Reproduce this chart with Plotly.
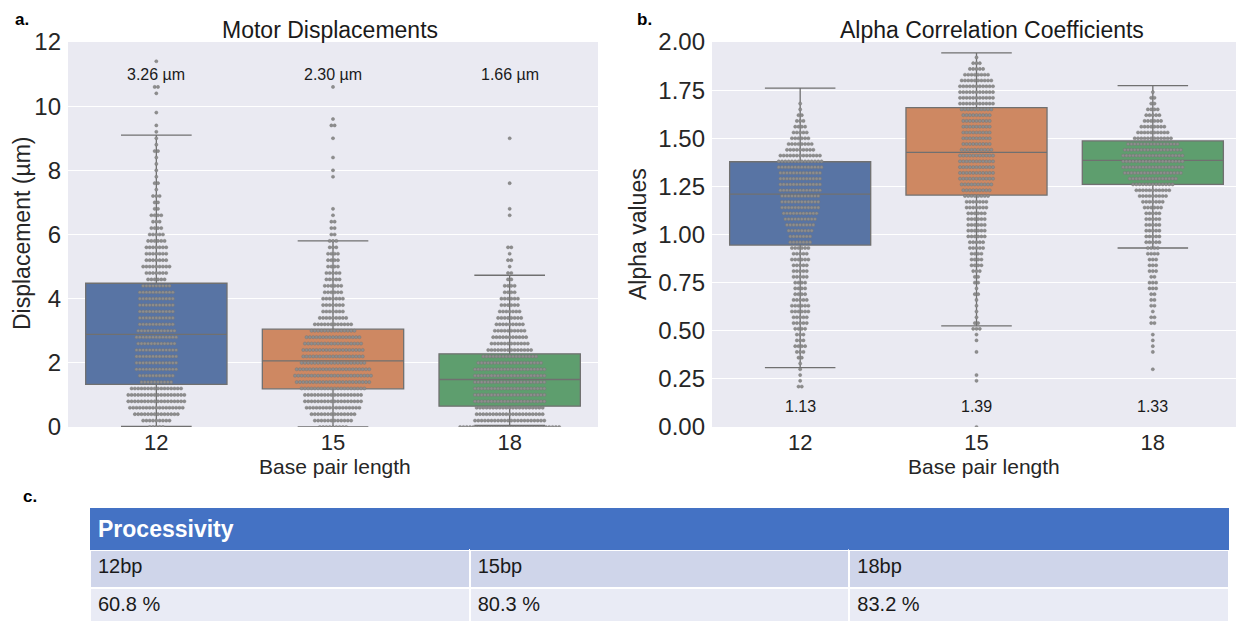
import plotly.graph_objects as go

# ---------------- data ----------------
categories = ["12", "15", "18"]
box_colors = ["#5874A4", "#CE8862", "#5E9E6E"]

# Panel a: Motor displacements (µm) - box statistics
disp_q1 = [1.33, 1.19, 0.65]
disp_median = [2.89, 2.06, 1.48]
disp_q3 = [4.48, 3.05, 2.28]
disp_lower = [0.02, 0.0, 0.05]
disp_upper = [9.1, 5.8, 4.73]
disp_means = ["3.26 µm", "2.30 µm", "1.66 µm"]

# swarm: point counts per 0.2 µm bin, starting at 0.0
disp_bin_start = 0.0
disp_bin_step = 0.2
disp_counts_12 = [5, 9, 14, 17, 18, 18, 16, 10, 11, 13, 13, 13, 13, 12, 13, 12, 11, 11, 11, 11,
                  11, 11, 9, 6, 7, 9, 7, 7, 7, 6, 5, 4, 3, 4, 2, 2, 3, 1, 2, 1,
                  1, 1, 1, 2, 1, 1, 1, 1, 0, 1, 0, 0, 1, 2, 0, 0, 0, 1]
disp_counts_15 = [9, 12, 14, 17, 18, 18, 20, 23, 24, 23, 20, 19, 19, 18, 17, 14, 12, 9, 7, 7,
                  7, 6, 6, 5, 5, 4, 4, 4, 3, 3, 2, 2, 2, 1, 1, 0, 0, 0, 0, 1,
                  1, 0, 1, 0, 0, 1, 0, 2, 1, 0, 0, 0, 0, 1]
disp_counts_18 = [31, 22, 21, 21, 22, 22, 22, 22, 22, 22, 20, 17, 14, 12, 11, 10, 9, 8, 7, 6,
                  6, 4, 4, 2, 2, 1, 2, 1, 2, 0, 0, 0, 0, 1, 1, 0, 0, 0, 1, 0,
                  0, 0, 0, 0, 0, 1]

# Panel b: Alpha correlation coefficients - box statistics
alpha_q1 = [0.945, 1.205, 1.26]
alpha_median = [1.21, 1.427, 1.385]
alpha_q3 = [1.378, 1.659, 1.486]
alpha_lower = [0.308, 0.525, 0.93]
alpha_upper = [1.76, 1.943, 1.773]
alpha_means = ["1.13", "1.39", "1.33"]

# swarm: point counts per 0.03 bin, starting at 0.00
alpha_bin_start = 0.0
alpha_bin_step = 0.03
alpha_counts_12 = [0, 0, 0, 0, 0, 0, 0, 2, 1, 1, 1, 1, 2, 3, 4, 3, 3, 4, 5, 5,
                   6, 6, 5, 4, 4, 4, 5, 5, 5, 6, 5, 6, 7, 7, 8, 9, 10, 11, 12, 12,
                   12, 13, 13, 13, 13, 14, 14, 13, 9, 8, 6, 5, 4, 3, 2, 1, 1]
alpha_counts_15 = [1, 0, 0, 0, 0, 0, 0, 0, 1, 1, 0, 0, 0, 1, 0, 1, 1, 3, 2, 1,
                   1, 1, 1, 2, 1, 2, 2, 3, 4, 4, 4, 5, 5, 6, 6, 6, 6, 6, 7, 7,
                   8, 9, 10, 11, 11, 11, 11, 11, 10, 9, 9, 9, 9, 9, 9, 10, 11, 11, 11, 11,
                   10, 8, 5, 3, 1]
alpha_counts_18 = [0, 0, 0, 0, 0, 0, 0, 0, 0, 0, 1, 0, 0, 1, 1, 1, 1, 0, 2, 2,
                   1, 2, 2, 2, 3, 3, 2, 3, 3, 3, 4, 4, 5, 5, 5, 5, 5, 5, 6, 7,
                   9, 11, 13, 15, 18, 19, 19, 19, 18, 16, 12, 10, 8, 6, 5, 4, 2, 2, 1]

# Panel c: processivity table
proc_labels = ["12bp", "15bp", "18bp"]
proc_values = ["60.8 %", "80.3 %", "83.2 %"]

# ---------------- figure ----------------
W, H = 1244, 621
OFF = 8  # page body margin in the browser
FONT = "Arial, Liberation Sans, sans-serif"
TXT = "#262626"


def px(x):
    return (x - OFF) / W


def py(y):
    return (H - (y - OFF)) / H


ax_a = [px(68), px(598)]
ax_b = [px(712), px(1241)]
ydom = [py(427), py(42)]

fig = go.Figure()


def swarm(counts, start, step, pos, spacing):
    xs, ys = [], []
    for i, n in enumerate(counts):
        v = start + i * step
        for k in range(n):
            xs.append(pos + (k - (n - 1) / 2) * spacing)
            ys.append(v)
    return xs, ys


spacing = 3.3 / 176.6  # px per category -> category units

panels = [
    ("x", "y", disp_q1, disp_median, disp_q3, disp_lower, disp_upper,
     [disp_counts_12, disp_counts_15, disp_counts_18], disp_bin_start, disp_bin_step),
    ("x2", "y2", alpha_q1, alpha_median, alpha_q3, alpha_lower, alpha_upper,
     [alpha_counts_12, alpha_counts_15, alpha_counts_18], alpha_bin_start, alpha_bin_step),
]

for xa, ya, q1, med, q3, lo, hi, counts, start, step in panels:
    for i in range(3):
        fig.add_trace(go.Box(
            x=[i], q1=[q1[i]], median=[med[i]], q3=[q3[i]],
            lowerfence=[lo[i]], upperfence=[hi[i]],
            width=0.8, whiskerwidth=0.5, fillcolor=box_colors[i],
            line=dict(color="#707070", width=1.3),
            boxpoints=False, hoverinfo="skip", showlegend=False,
            xaxis=xa, yaxis=ya,
        ))
    for i in range(3):
        xs, ys = swarm(counts[i], start, step, i, spacing)
        fig.add_trace(go.Scatter(
            x=xs, y=ys, mode="markers",
            marker=dict(size=3.2, color="#8E8E8E", line=dict(width=0.4, color="#727272")),
            hoverinfo="skip", showlegend=False, xaxis=xa, yaxis=ya,
        ))

# table
fig.add_trace(go.Table(
    domain=dict(x=[px(90), px(1229)], y=[0, py(508)]),
    columnwidth=[1, 1, 1],
    header=dict(
        values=["<b>Processivity</b>", "", ""],
        fill_color="#4472C4",
        line=dict(color="#4472C4", width=0),
        align="left", height=37,
        font=dict(family=FONT, size=23, color="white"),
    ),
    cells=dict(
        values=[[proc_labels[i], proc_values[i]] for i in range(3)],
        fill_color=[["#CFD5EA", "#E9EBF5"]] * 3,
        line=dict(color="white", width=2),
        align="left", height=38,
        font=dict(family=FONT, size=20, color="#1A1A1A"),
    ),
))

common_x = dict(
    tickmode="array", tickvals=[0, 1, 2], ticktext=categories,
    range=[-0.5, 2.5], showgrid=False, zeroline=False, showline=False,
    ticks="", automargin=False, ticklabelstandoff=0,
    tickfont=dict(family=FONT, size=22, color=TXT),
)
common_y = dict(
    gridcolor="white", gridwidth=1.2, zeroline=False, showline=False,
    ticks="", automargin=False, ticklabelstandoff=6,
    tickfont=dict(family=FONT, size=24, color=TXT),
)
fig.update_layout(
    width=W, height=H,
    margin=dict(l=0, r=0, t=0, b=0, autoexpand=False),
    paper_bgcolor="white", plot_bgcolor="#EAEAF2",
    boxmode="overlay",
    xaxis=dict(domain=ax_a, anchor="y", **common_x),
    xaxis2=dict(domain=ax_b, anchor="y2", **common_x),
    yaxis=dict(domain=ydom, anchor="x", range=[0, 12], dtick=2, **common_y),
    yaxis2=dict(domain=ydom, anchor="x2", range=[0, 2], dtick=0.25, tickformat=".2f", **common_y),
    font=dict(family=FONT, color=TXT),
)


def ann(x, y, text, size, **kw):
    d = dict(x=x, y=y, xref="paper", yref="paper", text=text, showarrow=False,
             font=dict(family=FONT, size=size, color=kw.pop("color", "#1A1A1A")),
             xanchor=kw.pop("xanchor", "center"), yanchor=kw.pop("yanchor", "middle"))
    d.update(kw)
    return d


annotations = []
for i in range(3):
    annotations.append(dict(x=i, y=11.0, xref="x", yref="y", text=disp_means[i], showarrow=False,
                            font=dict(family=FONT, size=16, color="#1A1A1A")))
    annotations.append(dict(x=i, y=0.105, xref="x2", yref="y2", text=alpha_means[i], showarrow=False,
                            font=dict(family=FONT, size=16, color="#1A1A1A")))
annotations += [
    ann(px(330), py(30), "Motor Displacements", 23),
    ann(px(992), py(30), "Alpha Correlation Coefficients", 23),
    ann(px(335), py(467), "Base pair length", 21, color=TXT),
    ann(px(984), py(467), "Base pair length", 21, color=TXT),
    ann(px(22), py(234), "Displacement (µm)", 23, color=TXT, textangle=-90),
    ann(px(638), py(234), "Alpha values", 23, color=TXT, textangle=-90),
    ann(px(13), py(8), "<b>a.</b>", 17, color="black", xanchor="left", yanchor="top"),
    ann(px(635), py(8), "<b>b.</b>", 17, color="black", xanchor="left", yanchor="top"),
    ann(px(21), py(497), "<b>c.</b>", 17, color="black", xanchor="left"),
]
fig.update_layout(annotations=annotations)

fig.write_html("out.html")
